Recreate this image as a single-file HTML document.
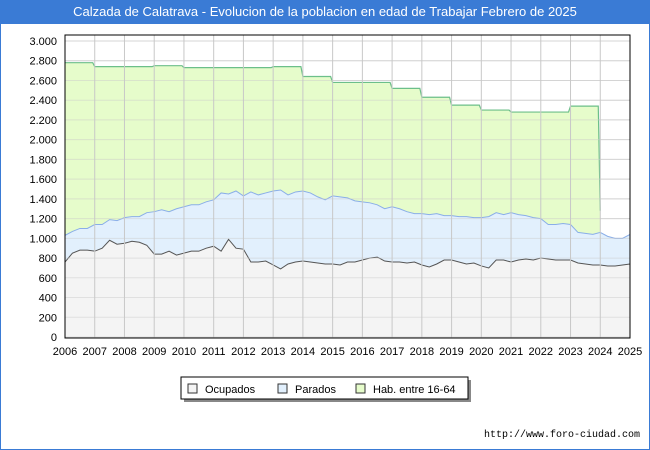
<!DOCTYPE html>
<html><head><meta charset="utf-8"><style>
body{margin:0;width:650px;height:450px;overflow:hidden;font-family:"Liberation Sans",sans-serif;background:#fff}
#frame{position:absolute;left:0;top:0;width:648px;height:448px;border:1px solid #3a7bd5}
#title{position:absolute;left:0;top:0;width:650px;height:24px;background:#3a7bd5;color:#fff;font-size:13px;line-height:24px;text-align:center}
</style></head><body>
<div id="frame"></div>
<div id="title">Calzada de Calatrava - Evolucion de la poblacion en edad de Trabajar Febrero de 2025</div>
<svg id="chart" width="650" height="450" style="position:absolute;left:0;top:0"></svg>
<script>
const years=[2006,2007,2008,2009,2010,2011,2012,2013,2014,2015,2016,2017,2018,2019,2020,2021,2022,2023,2024,2025];
const yTicks=[0,200,400,600,800,1000,1200,1400,1600,1800,2000,2200,2400,2600,2800,3000];
const habYears=[2006,2007,2008,2009,2010,2011,2012,2013,2014,2015,2016,2017,2018,2019,2020,2021,2022,2023];
const habValues=[2780,2740,2740,2750,2730,2730,2730,2740,2640,2580,2580,2520,2430,2350,2300,2280,2280,2340];
const habEndValue=1280;
const totalValues=[1030,1070,1100,1100,1140,1140,1190,1180,1210,1220,1220,1260,1270,1290,1270,1300,1320,1340,1340,1370,1390,1460,1450,1480,1430,1470,1440,1460,1480,1490,1440,1470,1480,1460,1420,1390,1430,1420,1410,1380,1370,1360,1340,1300,1320,1300,1270,1250,1250,1240,1250,1230,1230,1220,1220,1210,1210,1220,1260,1240,1260,1240,1230,1210,1200,1140,1140,1150,1140,1060,1050,1040,1060,1020,1000,1000,1040];
const ocupValues=[760,850,880,880,870,900,980,940,950,970,960,930,840,840,870,830,850,870,870,900,920,870,990,900,890,760,760,770,730,690,740,760,770,760,750,740,740,730,760,760,780,800,810,770,760,760,750,760,730,710,740,780,780,760,740,750,720,700,780,780,760,780,790,780,800,790,780,780,780,750,740,730,730,720,720,730,740];
const L=65,R=630,T=35,B=338;
const X=y=>L+(y-2006)*(R-L)/19;
const Y=v=>337-v*296/3000;
const ns="http://www.w3.org/2000/svg";
const svg=document.getElementById('chart');
function mk(t,a,p){const e=document.createElementNS(ns,t);for(const k in a)e.setAttribute(k,a[k]);(p||svg).appendChild(e);return e;}
const bg=mk('rect',{x:L,y:T,width:R-L,height:B-T,fill:'#fff'});


yTicks.forEach(v=>{const l=mk('line',{x1:L,x2:R,y1:Y(v),y2:Y(v),stroke:'#ddd'});


const t=mk('text',{x:L-8,y:Y(v)+4,'text-anchor':'end','font-size':11,fill:'#000'});t.textContent=v.toLocaleString('de-DE');

});
let hp=[];habYears.forEach((y,i)=>{hp.push([X(y),Y(habValues[i])]);hp.push([X(y+1)-2,Y(habValues[i])]);});
hp.push([X(2024),Y(habEndValue)]);
const hArea=mk('path',{d:'M'+X(2006)+','+Y(0)+' L'+hp.map(p=>p.join(',')).join(' L')+' L'+X(2024)+','+Y(0)+'Z',fill:'#e6fccb'});


const hLine=mk('polyline',{points:hp.map(p=>p.join(',')).join(' '),fill:'none',stroke:'#6cbf8a','stroke-width':1.2});


const qx=i=>X(2006+i/4);
const tp=totalValues.map((v,i)=>[qx(i),Y(v)]);
const tArea=mk('path',{d:'M'+qx(0)+','+Y(0)+' L'+tp.map(p=>p.join(',')).join(' L')+' L'+qx(totalValues.length-1)+','+Y(0)+'Z',fill:'#e2f0fd'});


const tLine=mk('polyline',{points:tp.map(p=>p.join(',')).join(' '),fill:'none',stroke:'#8aaee8','stroke-width':1});


const op=ocupValues.map((v,i)=>[qx(i),Y(v)]);
const oArea=mk('path',{d:'M'+qx(0)+','+Y(0)+' L'+op.map(p=>p.join(',')).join(' L')+' L'+qx(ocupValues.length-1)+','+Y(0)+'Z',fill:'#f4f4f4'});


const oLine=mk('polyline',{points:op.map(p=>p.join(',')).join(' '),fill:'none',stroke:'#555','stroke-width':1});


yTicks.forEach(v=>{const l=mk('line',{x1:L,x2:R,y1:Y(v),y2:Y(v),stroke:'#ccc','stroke-opacity':0.5});

});
years.forEach(y=>{const l=mk('line',{x1:X(y),x2:X(y),y1:T,y2:B,stroke:'#c8c8c8'});


const t=mk('text',{x:X(y),y:355,'text-anchor':'middle','font-size':11,fill:'#000'});t.textContent=y;

});
const fr=mk('rect',{x:L,y:T,width:R-L,height:B-T,fill:'none',stroke:'#000'});


const lg=mk('g',{});


mk('rect',{x:184,y:380,width:287,height:22,fill:'#888'},lg);
mk('rect',{x:181,y:377,width:287,height:22,fill:'#fff',stroke:'#000'},lg);
[['Ocupados','#f4f4f4',188],['Parados','#e2f0fd',278],['Hab. entre 16-64','#e6fccb',356]].forEach(([n,c,x])=>{
const g=mk('g',{},lg);


mk('rect',{x:x,y:384,width:9,height:9,fill:c,stroke:'#333'},g);
const t=mk('text',{x:x+17,y:393,'font-size':11,fill:'#000'},g);t.textContent=n;});
const u=mk('text',{x:640,y:437,'text-anchor':'end','font-size':10,'font-family':'Liberation Mono, monospace',fill:'#000'});u.textContent='http://www.foro-ciudad.com';


</script>
</body></html>
